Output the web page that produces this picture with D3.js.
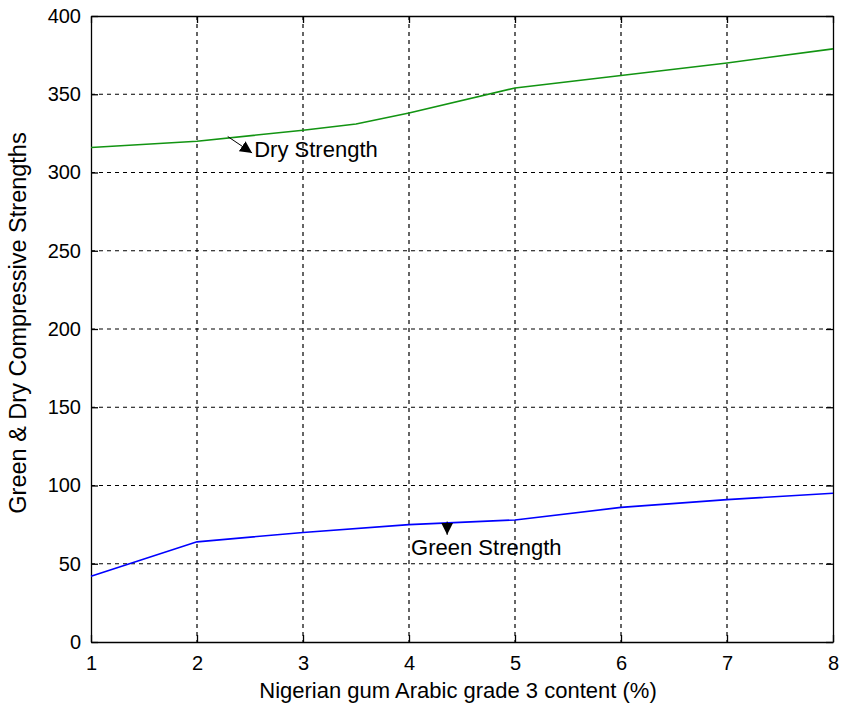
<!DOCTYPE html>
<html>
<head>
<meta charset="utf-8">
<script src="https://cdn.jsdelivr.net/npm/d3@7"></script>
<style>
	body { margin: 0; background: #fff; }
	svg text { font-family: Arial, "Liberation Sans", sans-serif; fill: #000; }
</style>
</head>
<body>
<svg class="strength-chart" width="841" height="711"></svg>
<script>
// data
let gumContent = [1, 2, 3, 4, 5, 6, 7, 8];
let greenStrength = [42, 64, 70, 75, 78, 86, 91, 95];
let dryContent = [1, 2, 3, 3.5, 4, 5, 6, 7, 8];
let dryStrength = [316, 320, 327, 331, 338, 354, 362, 370, 379];
let yTicks = [0, 50, 100, 150, 200, 250, 300, 350, 400];
let xTicks = [1, 2, 3, 4, 5, 6, 7, 8];

// annotation anchors in data units: [from x, from y], [to x, to y], [text x, text y]
let dryNote = { label: 'Dry Strength', from: [2.29, 323], to: [2.52, 312.5], text: [2.54, 310] };
let greenNote = { label: 'Green Strength', from: [4.36, 77], to: [4.36, 68.5], text: [4.02, 55.5] };

let margin = { top: 16, right: 8, bottom: 69, left: 91 };
let width = 841 - margin.left - margin.right;
let height = 711 - margin.top - margin.bottom;

let x = d3.scaleLinear().domain([1, 8]).range([0, width]);
let y = d3.scaleLinear().domain([0, 400]).range([height, 0]);

let svg = d3.select('.strength-chart');
let g = svg.append('g').attr('transform', 'translate(' + margin.left + ',' + margin.top + ')');

// dashed grid
g.selectAll('.vgrid')
	.data(xTicks.slice(1, -1))
	.enter().append('line')
	.attr('class', 'vgrid')
	.attr('x1', d => x(d)).attr('x2', d => x(d))
	.attr('y1', 0).attr('y2', height)
	.attr('stroke', '#000').attr('stroke-width', 1.2)
	.attr('stroke-dasharray', '4,4');

g.selectAll('.hgrid')
	.data(yTicks.slice(1, -1))
	.enter().append('line')
	.attr('class', 'hgrid')
	.attr('x1', 0).attr('x2', width)
	.attr('y1', d => y(d)).attr('y2', d => y(d))
	.attr('stroke', '#000').attr('stroke-width', 1.2)
	.attr('stroke-dasharray', '4,4');

// axes with inward ticks, on all four sides
g.append('g')
	.attr('class', 'x-axis')
	.attr('transform', 'translate(0,' + height + ')')
	.call(d3.axisBottom(x).tickValues(xTicks).tickFormat(d3.format('d'))
		.tickSizeInner(-7).tickSizeOuter(0).tickPadding(14));
g.append('g')
	.attr('class', 'y-axis')
	.call(d3.axisLeft(y).tickValues(yTicks).tickSizeInner(-7).tickSizeOuter(0).tickPadding(10));
g.append('g')
	.call(d3.axisTop(x).tickValues(xTicks).tickSizeInner(-7).tickSizeOuter(0).tickFormat(''));
g.append('g')
	.attr('transform', 'translate(' + width + ',0)')
	.call(d3.axisRight(y).tickValues(yTicks).tickSizeInner(-7).tickSizeOuter(0).tickFormat(''));

g.selectAll('.domain').attr('stroke', '#000').attr('stroke-width', 1.3);
g.selectAll('.tick line').attr('stroke', '#000').attr('stroke-width', 1.3);
g.selectAll('.x-axis text, .y-axis text')
	.style('font-size', '20px')
	.style('font-family', 'Arial, "Liberation Sans", sans-serif');

// series lines
let line = d3.line().x(d => x(d[0])).y(d => y(d[1]));

g.append('path')
	.datum(dryContent.map((c, i) => [c, dryStrength[i]]))
	.attr('fill', 'none')
	.attr('stroke', '#129412')
	.attr('stroke-width', 1.6)
	.attr('d', line);

g.append('path')
	.datum(gumContent.map((c, i) => [c, greenStrength[i]]))
	.attr('fill', 'none')
	.attr('stroke', '#0000ff')
	.attr('stroke-width', 1.6)
	.attr('d', line);

// annotations with arrows
svg.append('defs').append('marker')
	.attr('id', 'head')
	.attr('viewBox', '0 0 10 10')
	.attr('refX', 10).attr('refY', 5)
	.attr('markerWidth', 12).attr('markerHeight', 12)
	.attr('markerUnits', 'userSpaceOnUse')
	.attr('orient', 'auto')
	.append('path')
	.attr('d', 'M0,0 L10,5 L0,10 Z')
	.attr('fill', '#000');

[dryNote, greenNote].forEach(function(n) {
	g.append('line')
		.attr('x1', x(n.from[0])).attr('y1', y(n.from[1]))
		.attr('x2', x(n.to[0])).attr('y2', y(n.to[1]))
		.attr('stroke', '#000').attr('stroke-width', 1)
		.attr('marker-end', 'url(#head)');
	g.append('text')
		.attr('x', x(n.text[0])).attr('y', y(n.text[1]))
		.style('font-size', '22px')
		.text(n.label);
});

// axis titles
svg.append('text')
	.attr('x', 458)
	.attr('y', 698)
	.attr('text-anchor', 'middle')
	.style('font-size', '22px')
	.text('Nigerian gum Arabic grade 3 content (%)');

svg.append('text')
	.attr('transform', 'translate(26,323) rotate(-90)')
	.attr('text-anchor', 'middle')
	.style('font-size', '23.5px')
	.text('Green & Dry Compressive Strengths');
</script>
</body>
</html>
